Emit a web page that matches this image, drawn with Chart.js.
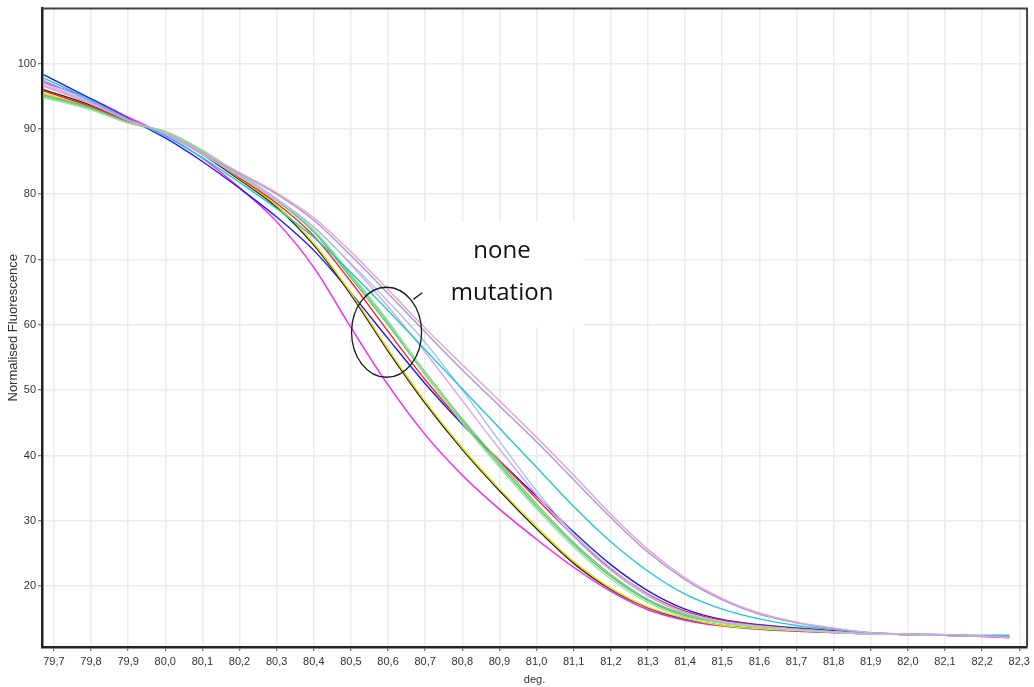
<!DOCTYPE html>
<html>
<head>
<meta charset="utf-8">
<style>
  html, body { margin: 0; padding: 0; background: #ffffff; }
  canvas { display: block; }
</style>
<script src="https://cdn.jsdelivr.net/npm/chart.js@4.4.1/dist/chart.umd.min.js"></script>
</head>
<body>
<canvas id="c" width="1034" height="687"></canvas>
<script>
// ---- data ----
const temps = [79.672, 79.8, 79.9, 80.0, 80.1, 80.2, 80.3, 80.4, 80.5, 80.6, 80.7, 80.8, 80.9, 81.0, 81.1, 81.2, 81.3, 81.4, 81.5, 81.6, 81.7, 81.8, 81.9, 82.0, 82.1, 82.2, 82.273];

const pinkCurve      = [96.5, 93.8, 91.3, 89.4, 86.4, 83.3, 80.2, 76.4, 71.2, 65.4, 59.5, 53.9, 48.4, 42.8, 37.0, 31.0, 25.6, 21.3, 18.1, 15.9, 14.5, 13.6, 12.9, 12.7, 12.6, 12.4, 12.1];
const lavenderCurve  = [97.4, 94.2, 91.4, 89.3, 86.3, 83.2, 80.0, 76.0, 70.6, 64.8, 58.9, 53.1, 47.6, 42.1, 36.3, 30.5, 25.2, 21.0, 17.9, 15.7, 14.4, 13.5, 12.9, 12.7, 12.6, 12.4, 12.3];
const cyanCurve      = [97.8, 94.4, 91.5, 88.9, 85.6, 81.8, 77.8, 73.4, 68.0, 62.2, 56.2, 50.2, 44.2, 38.2, 32.2, 26.8, 22.3, 18.8, 16.5, 15.0, 14.0, 13.4, 12.9, 12.7, 12.6, 12.5, 12.5];
const lightBlueCurve = [97.0, 94.0, 91.4, 89.2, 86.1, 82.7, 79.1, 74.9, 69.4, 63.6, 57.3, 50.0, 42.2, 34.6, 28.0, 22.8, 18.7, 16.0, 14.6, 13.9, 13.4, 13.0, 12.7, 12.6, 12.5, 12.4, 12.3];
const plumCurve      = [96.7, 93.9, 91.3, 89.2, 86.1, 82.8, 79.3, 75.0, 69.2, 62.8, 55.8, 48.4, 41.0, 34.0, 27.6, 22.4, 18.5, 15.9, 14.5, 13.9, 13.4, 13.0, 12.7, 12.6, 12.5, 12.4, 12.3];
const greenCurve     = [95.0, 93.0, 90.9, 89.6, 86.7, 83.0, 79.2, 74.4, 67.6, 60.4, 52.8, 45.6, 39.0, 32.6, 26.7, 21.8, 18.0, 15.7, 14.5, 13.8, 13.4, 13.0, 12.7, 12.6, 12.5, 12.4, 12.3];
const lightGreenCurve= [94.8, 92.9, 90.9, 89.6, 86.7, 83.1, 79.3, 74.5, 67.8, 60.6, 52.6, 45.0, 38.2, 31.8, 26.0, 21.1, 17.5, 15.3, 14.3, 13.7, 13.3, 13.0, 12.7, 12.6, 12.5, 12.4, 12.3];
const seaGreenCurve  = [95.2, 93.2, 91.0, 89.5, 86.5, 82.8, 79.0, 74.2, 67.2, 60.0, 52.4, 45.2, 38.6, 32.2, 26.4, 21.5, 17.8, 15.5, 14.4, 13.8, 13.4, 13.0, 12.7, 12.6, 12.5, 12.4, 12.3];
const redCurve       = [95.8, 93.4, 91.1, 89.4, 86.3, 82.5, 78.6, 73.6, 66.6, 59.0, 51.6, 45.0, 39.2, 33.4, 27.7, 22.7, 18.8, 16.2, 14.8, 14.0, 13.5, 13.1, 12.8, 12.6, 12.5, 12.4, 12.3];
const blueCurve      = [98.3, 94.6, 91.6, 88.6, 85.0, 80.9, 76.5, 71.4, 64.9, 57.9, 51.0, 44.8, 39.2, 33.8, 28.3, 23.3, 19.3, 16.5, 14.9, 14.1, 13.6, 13.2, 12.8, 12.6, 12.5, 12.4, 12.3];
const yellowCurve    = [95.4, 93.3, 91.0, 89.4, 86.3, 82.4, 78.3, 72.5, 64.9, 56.3, 48.3, 41.2, 34.9, 29.1, 23.8, 19.7, 16.8, 15.1, 14.0, 13.5, 13.2, 12.9, 12.7, 12.6, 12.5, 12.4, 12.3];
const blackCurve     = [96.0, 93.6, 91.2, 89.3, 86.1, 82.2, 78.0, 72.2, 64.6, 56.0, 48.0, 40.9, 34.6, 28.8, 23.5, 19.5, 16.7, 15.0, 14.0, 13.5, 13.2, 12.9, 12.7, 12.6, 12.5, 12.4, 12.3];
const magentaCurve   = [97.1, 94.6, 91.8, 89.0, 85.5, 81.0, 75.8, 68.8, 59.6, 50.8, 43.2, 37.0, 31.8, 27.2, 22.9, 19.2, 16.4, 14.8, 13.9, 13.4, 13.1, 12.9, 12.7, 12.6, 12.5, 12.3, 12.1];

const xTicks = [79.7, 79.8, 79.9, 80.0, 80.1, 80.2, 80.3, 80.4, 80.5, 80.6, 80.7, 80.8, 80.9, 81.0, 81.1, 81.2, 81.3, 81.4, 81.5, 81.6, 81.7, 81.8, 81.9, 82.0, 82.1, 82.2, 82.3];
const xTickLabels = ['79,7','79,8','79,9','80,0','80,1','80,2','80,3','80,4','80,5','80,6','80,7','80,8','80,9','81,0','81,1','81,2','81,3','81,4','81,5','81,6','81,7','81,8','81,9','82,0','82,1','82,2','82,3'];
const yTickLabels = ['20','30','40','50','60','70','80','90','100'];

const noteLines = ['none', 'mutation'];

// ---- build ----
function pts(arr) { return arr.map((v, i) => ({ x: temps[i], y: v })); }

const series = [
  { data: pinkCurve,       color: '#e6a2c8' },
  { data: lavenderCurve,   color: '#a796e2' },
  { data: cyanCurve,       color: '#1ccccc' },
  { data: lightBlueCurve,  color: '#a9c2f0' },
  { data: plumCurve,       color: '#d7a6e8' },
  { data: lightGreenCurve, color: '#92e892' },
  { data: seaGreenCurve,   color: '#5cc08a' },
  { data: greenCurve,      color: '#7acb6a' },
  { data: redCurve,        color: '#ff2020' },
  { data: yellowCurve,     color: '#e6dc00' },
  { data: blackCurve,      color: '#262626' },
  { data: blueCurve,       color: '#1a1aff' },
  { data: magentaCurve,    color: '#ff1aff' }
];

const datasets = series.map(s => ({
  data: pts(s.data),
  borderColor: s.color,
  borderWidth: 1.4,
  pointRadius: 0,
  fill: false,
  cubicInterpolationMode: 'monotone'
}));

const notePlugin = {
  id: 'note',
  beforeDatasetsDraw(chart) {
    const { ctx, scales: { x, y } } = chart;
    const x0 = x.getPixelForValue(80.69), x1 = x.getPixelForValue(81.125);
    const y0 = y.getPixelForValue(75.8), y1 = y.getPixelForValue(59.6);
    ctx.save();
    ctx.fillStyle = '#ffffff';
    ctx.fillRect(x0, y0, x1 - x0, y1 - y0);
    ctx.restore();
  },
  afterDatasetsDraw(chart) {
    const { ctx, scales: { x, y } } = chart;
    ctx.save();
    const cx = x.getPixelForValue(80.596), cy = y.getPixelForValue(58.87);
    ctx.strokeStyle = '#1a1a1a';
    ctx.lineWidth = 1.3;
    ctx.beginPath();
    ctx.ellipse(cx, cy, 35, 45, 0, 0, Math.PI * 2);
    ctx.stroke();
    ctx.beginPath();
    ctx.moveTo(x.getPixelForValue(80.668), y.getPixelForValue(63.9));
    ctx.lineTo(x.getPixelForValue(80.692), y.getPixelForValue(64.9));
    ctx.stroke();
    const tx = x.getPixelForValue(80.907);
    ctx.fillStyle = '#111111';
    ctx.font = "24px 'Open Sans', 'Liberation Sans', sans-serif";
    ctx.textAlign = 'center';
    ctx.textBaseline = 'alphabetic';
    ctx.fillText(noteLines[0], tx, y.getPixelForValue(70.2));
    ctx.fillText(noteLines[1], tx, y.getPixelForValue(63.8));
    ctx.restore();
  },
  afterDraw(chart) {
    const { ctx, chartArea: a } = chart;
    ctx.save();
    ctx.strokeStyle = '#444444';
    ctx.lineWidth = 2;
    ctx.beginPath();
    ctx.moveTo(a.left, a.top);
    ctx.lineTo(a.right, a.top);
    ctx.lineTo(a.right, a.bottom);
    ctx.stroke();
    ctx.restore();
  }
};

const tickFont = { family: "'Liberation Sans Narrow', 'Liberation Sans', Arial, sans-serif", size: 11 };

new Chart(document.getElementById('c'), {
  type: 'line',
  data: { datasets },
  plugins: [notePlugin],
  options: {
    responsive: false,
    devicePixelRatio: 1,
    animation: false,
    events: [],
    layout: { padding: { top: 8, right: 3, left: 0, bottom: 0 } },
    plugins: { legend: { display: false }, tooltip: { enabled: false } },
    scales: {
      x: {
        type: 'linear',
        min: 79.668,
        max: 82.321,
        afterFit(scale) { scale.height = 40; },
        border: { color: '#222222', width: 2.5 },
        grid: { color: '#ebebeb', lineWidth: 1.5, tickColor: '#555555', tickLength: 4, tickWidth: 1 },
        ticks: {
          stepSize: 0.1,
          includeBounds: false,
          autoSkip: false,
          maxRotation: 0,
          padding: 4,
          color: '#333333',
          font: tickFont,
          callback(value) {
            const i = xTicks.findIndex(t => Math.abs(t - value) < 1e-6);
            return i >= 0 ? xTickLabels[i] : '';
          }
        },
        title: { display: true, text: 'deg.', color: '#333333', font: { family: tickFont.family, size: 11 }, padding: { top: 0, bottom: 0 } }
      },
      y: {
        type: 'linear',
        min: 10.7,
        max: 108.4,
        afterFit(scale) { scale.width = 42; },
        border: { color: '#222222', width: 2.5 },
        grid: { color: '#ebebeb', lineWidth: 1.5, tickColor: '#555555', tickLength: 4, tickWidth: 1 },
        ticks: {
          stepSize: 10,
          includeBounds: false,
          padding: 2,
          color: '#333333',
          font: tickFont,
          callback(value) {
            const i = Math.round((value - 20) / 10);
            return (i >= 0 && i < yTickLabels.length && Math.abs(value - (20 + i * 10)) < 1e-6) ? yTickLabels[i] : '';
          }
        },
        title: { display: true, text: 'Normalised Fluorescence', color: '#333333', font: { family: "'Liberation Sans', Arial, sans-serif", size: 13 }, padding: { top: 6, bottom: 0 } }
      }
    }
  }
});
</script>
</body>
</html>
